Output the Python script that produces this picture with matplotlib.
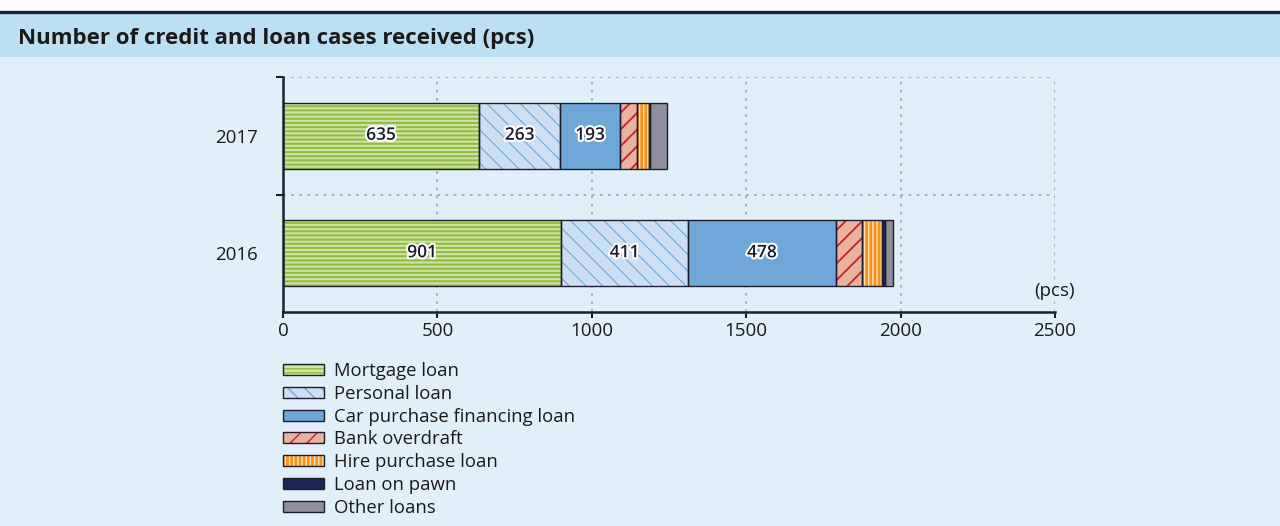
import matplotlib.pyplot as plt
import matplotlib.patheffects as pe
from matplotlib.patches import Patch, Rectangle
from matplotlib.lines import Line2D
from matplotlib.legend_handler import HandlerTuple

plt.rcParams['font.family'] = ['Open Sans', 'DejaVu Sans']

years = ['2016', '2017']
categories = ['Mortgage loan', 'Personal loan', 'Car purchase financing loan',
              'Bank overdraft', 'Hire purchase loan', 'Loan on pawn', 'Other loans']
values_2016 = [901, 411, 478, 84, 65, 11, 24]
values_2017 = [635, 263, 193, 54, 40, 2, 58]
labelled = [0, 1, 2]  # segments that carry a number

# face colour, hatch, hatch colour, hatch linewidth
styles = [
    ('#cfe4a2', '----', '#8fbc45', 1.5),
    ('#cde0f3', '\\\\', '#6aa7dc', 0.8),
    ('#6fa7d8', '', None, 0),
    ('#e9b39f', '//', '#c8202e', 1.3),
    ('#f6921e', '||||', '#fde3b4', 1.0),
    ('#1c2653', '', None, 0),
    ('#8e8f9a', '', None, 0),
]
edge = '#1b1f2e'
txt = '#1a1a1a'

fig = plt.figure(figsize=(12.8, 5.26), dpi=100)
fig.patch.set_facecolor('#e1f0f8')
fig.add_artist(Rectangle((0, 0.977), 1, 0.023, transform=fig.transFigure,
                         facecolor='white', edgecolor='none'))
fig.add_artist(Rectangle((0, 0.8916), 1, 0.0854, transform=fig.transFigure,
                         facecolor='#bce0f2', edgecolor='none'))
fig.add_artist(Line2D([0, 1], [0.977, 0.977], transform=fig.transFigure,
                      color='#16213e', lw=2.4))
fig.text(0.014, 0.927, 'Number of credit and loan cases received (pcs)',
         fontsize=16, fontweight='bold', color=txt, va='center', ha='left')

ax = fig.add_axes([0.2211, 0.4068, 0.6031, 0.4468])
ax.set_facecolor('none')


def make_patch(face, hatch, hcol, hlw, **kw):
    p = Patch(facecolor=face, hatch=hatch or None,
              edgecolor=hcol if hcol else face, linewidth=0, **kw)
    if hatch and hasattr(p, 'set_hatch_linewidth'):
        p.set_hatch_linewidth(hlw)
    return p


ypos = [0, 1]
h = 0.56
for yi, vals in zip(ypos, [values_2016, values_2017]):
    left = 0
    for i, v in enumerate(vals):
        face, hatch, hcol, hlw = styles[i]
        bars = ax.barh(yi, v, left=left, height=h, color=face,
                       hatch=hatch or None, edgecolor=hcol if hcol else face,
                       linewidth=0, zorder=2)
        if hatch:
            for b in bars:
                if hasattr(b, 'set_hatch_linewidth'):
                    b.set_hatch_linewidth(hlw)
        ax.barh(yi, v, left=left, height=h, fill=False, edgecolor=edge,
                linewidth=1.0, zorder=3)
        if i in labelled:
            ax.text(left + v / 2, yi, str(v), ha='center', va='center',
                    fontsize=12.5, fontweight='semibold', color='#1a1a2e', zorder=4,
                    path_effects=[pe.withStroke(linewidth=3, foreground='white')])
        left += v

ax.set_xlim(0, 2500)
ax.set_ylim(-0.5, 1.5)
ax.set_xticks([0, 500, 1000, 1500, 2000, 2500])
ax.set_yticks(ypos)
ax.set_yticklabels(years)
ax.set_yticks([0.5, 1.5], minor=True)
ax.tick_params(axis='y', which='major', length=0, pad=18, labelsize=13.5,
               labelcolor=txt)
ax.tick_params(axis='y', which='minor', length=5, width=1.5, color=edge)
ax.tick_params(axis='x', length=4, width=1.5, color=edge, labelsize=13.5,
               labelcolor=txt, pad=3)
for s in ['top', 'right']:
    ax.spines[s].set_visible(False)
for s in ['left', 'bottom']:
    ax.spines[s].set_color(edge)
    ax.spines[s].set_linewidth(1.8)
ax.grid(axis='x', which='major', color='#a3a7b3', linestyle=(0, (1.5, 3)), lw=1.3)
ax.grid(axis='y', which='minor', color='#a3a7b3', linestyle=(0, (1.5, 3)), lw=1.3)
ax.set_axisbelow(True)
ax.text(1.0, 0.09, '(pcs)', transform=ax.transAxes, ha='center', va='center',
        fontsize=13.5, color=txt)

handles = []
for face, hatch, hcol, hlw in styles:
    fillp = make_patch(face, hatch, hcol, hlw)
    edgep = Patch(fill=False, edgecolor=edge, linewidth=1.0)
    handles.append((fillp, edgep))
fig.legend(handles, categories, loc='upper left',
           bbox_to_anchor=(283 / 1280, 1 - 362 / 526), frameon=False,
           fontsize=13.3, labelspacing=0.26, handlelength=2.2, handleheight=0.55,
           handletextpad=0.55, borderpad=0, borderaxespad=0,
           handler_map={tuple: HandlerTuple(ndivide=1, pad=0)},
           labelcolor=txt)

fig.savefig('out.png', dpi=100, facecolor=fig.get_facecolor())
